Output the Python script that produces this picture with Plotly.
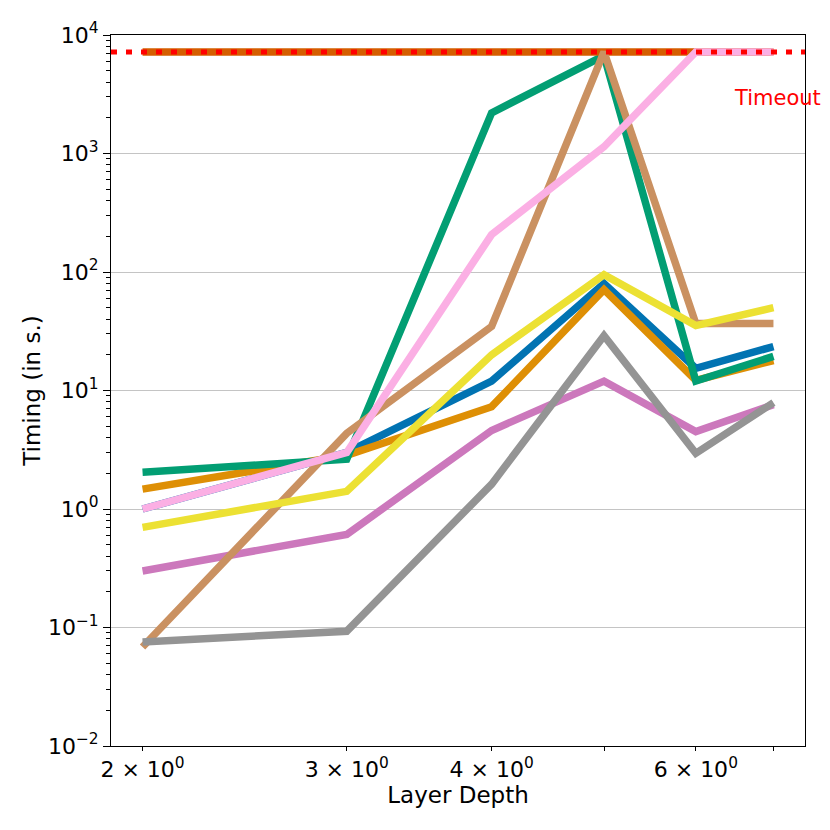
import math
import plotly.graph_objects as go

depth = [2, 3, 4, 5, 6, 7]
timeout = 7200

# timing per method, in seconds
t_blue = [1.0, 3.0, 12.0, 80.0, 15.4, 23.5]
t_orange = [1.47, 2.84, 7.3, 71.0, 12.2, 17.9]
t_green = [2.04, 2.63, 2200.0, 6700.0, 12.0, 19.4]
t_red = [7200, 7200, 7200, 7200, 7200, 7200]
t_purple = [0.30, 0.61, 4.6, 12.0, 4.5, 7.6]
t_brown = [0.0685, 4.35, 34.7, 7200, 36.7, 36.7]
t_pink = [1.0, 3.0, 207.0, 1140.0, 7200, 7200]
t_gray = [0.0755, 0.093, 1.62, 29.0, 2.95, 7.9]
t_yellow = [0.70, 1.41, 20.0, 95.0, 35.3, 50.0]

series = [t_blue, t_orange, t_green, t_red, t_purple, t_brown, t_pink, t_gray, t_yellow]
colors = ["#0173B2", "#DE8F05", "#029E73", "#D55E00", "#CC78BC",
          "#CA9161", "#FBAFE4", "#949494", "#ECE133"]

xtick_vals = [2, 3, 4, 5, 6, 7]
xtick_text = ["2 × 10<sup>0</sup>", "3 × 10<sup>0</sup>", "4 × 10<sup>0</sup>", "",
              "6 × 10<sup>0</sup>", ""]
ytick_vals = [0.01, 0.1, 1, 10, 100, 1000, 10000]
ytick_text = ["10<sup>−2</sup>", "10<sup>−1</sup>", "10<sup>0</sup>", "10<sup>1</sup>",
              "10<sup>2</sup>", "10<sup>3</sup>", "10<sup>4</sup>"]

fig = go.Figure()
for vals, c in zip(series, colors):
    fig.add_trace(go.Scatter(x=depth, y=vals, mode="lines",
                             line=dict(color=c, width=7.5), showlegend=False))

fig.add_shape(type="line", xref="paper", x0=0, x1=1, yref="y", y0=timeout, y1=timeout,
              line=dict(color="red", width=5, dash="6px,9px"))
fig.add_annotation(x=math.log10(6.45), y=math.log10(2950), text="Timeout",
                   showarrow=False, xanchor="left", yanchor="middle",
                   font=dict(color="red", size=21))

lo, hi = math.log10(min(depth)), math.log10(max(depth))
pad = 0.05 * (hi - lo)

fig.update_xaxes(type="log", range=[lo - pad, hi + pad],
                 tickvals=xtick_vals, ticktext=xtick_text,
                 ticks="outside", ticklen=4, tickcolor="black",
                 showgrid=False, zeroline=False,
                 showline=True, linecolor="black", linewidth=1, mirror=True,
                 title=dict(text="Layer Depth", standoff=0, font=dict(size=23)))
fig.update_yaxes(type="log", range=[-2, 4],
                 tickvals=ytick_vals, ticktext=ytick_text,
                 ticks="outside", ticklen=7, tickcolor="black",
                 minor=dict(ticks="outside", ticklen=4, tickcolor="black",
                            dtick="D1", showgrid=False),
                 showgrid=True, gridcolor="#c4c4c4", gridwidth=1.3, zeroline=False,
                 showline=True, linecolor="black", linewidth=1, mirror=True,
                 title=dict(text="Timing (in s.)", standoff=0, font=dict(size=23)))

fig.update_layout(width=822, height=822,
                  margin=dict(l=103, r=25, t=27, b=84),
                  plot_bgcolor="white", paper_bgcolor="white",
                  font=dict(family="DejaVu Sans", size=22, color="black"),
                  showlegend=False)

fig.write_html("out.html")
